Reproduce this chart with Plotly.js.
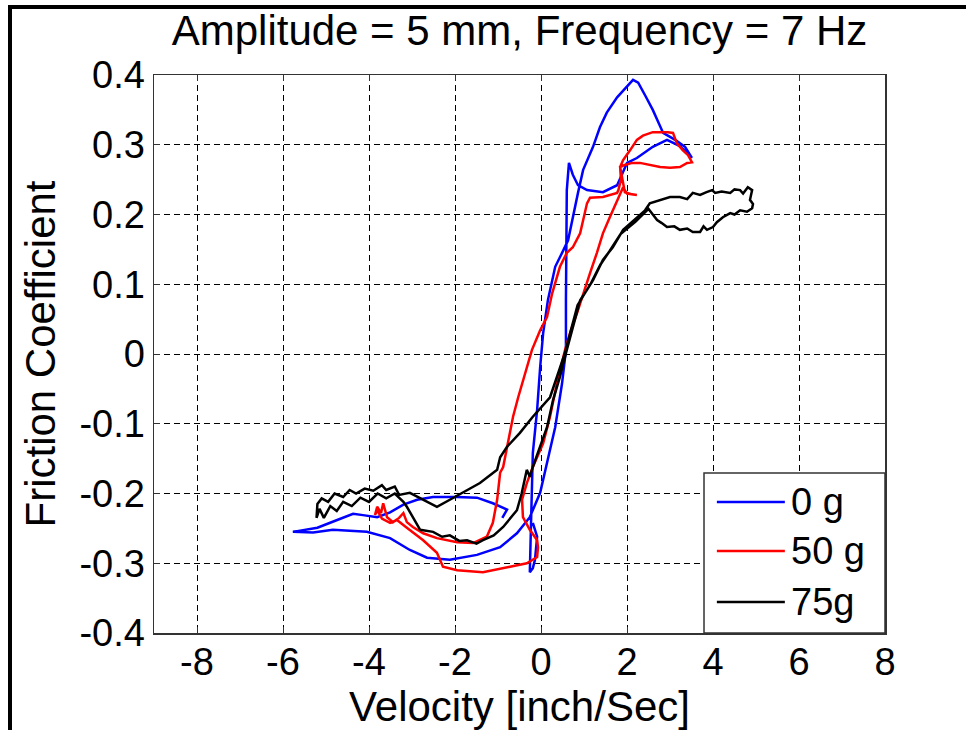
<!DOCTYPE html>
<html>
<head>
<meta charset="utf-8">
<script src="https://cdn.plot.ly/plotly-3.0.1.min.js"></script>
<style>
  html, body { margin: 0; padding: 0; background: #fff; }
  #chart { width: 966px; height: 730px; }
  #frame { position: absolute; left: 8px; top: 5px; width: 958px; height: 725px;
           border-top: 4px solid #000; border-left: 4px solid #000; box-sizing: border-box;
           pointer-events: none; }
</style>
</head>
<body>
<div id="chart"></div>
<div id="frame"></div>
<script>
// ---------------- data ----------------
const titleText = "Amplitude = 5 mm, Frequency = 7 Hz";
const xTitle = "Velocity [inch/Sec]";
const yTitle = "Friction Coefficient";

const seriesNames = ["0 g", "50 g", "75g"];
const seriesColors = ["#0000ff", "#ff0000", "#000000"];

const xTickVals = [-8, -6, -4, -2, 0, 2, 4, 6, 8];
const xTickText = ["-8", "-6", "-4", "-2", "0", "2", "4", "6", "8"];
const yTickVals = [-0.4, -0.3, -0.2, -0.1, 0, 0.1, 0.2, 0.3, 0.4];
const yTickText = ["-0.4", "-0.3", "-0.2", "-0.1", "0", "0.1", "0.2", "0.3", "0.4"];

// 0 g (blue)
const blueX = [-0.90, -0.79, -1.12, -1.49, -1.95, -2.51, -2.88, -3.20, -3.51, -3.81, -4.14, -4.37, -4.74, -5.20, -5.77,
  -5.30, -4.84, -4.05, -3.51, -3.05, -2.65, -2.12, -1.49, -0.95, -0.56, -0.26, -0.02, 0.16,
  0.33, 0.49, 0.58, 0.58, 0.60, 0.60, 0.65,
  0.74, 0.86, 1.07, 1.44, 1.77, 1.88, 2.00, 2.23, 2.60, 2.93, 3.23, 3.47, 3.51, 3.35, 3.12, 2.84,
  2.72, 2.60, 2.42, 2.26, 2.14, 2.00, 1.77, 1.53, 1.37, 1.21, 0.98, 0.86, 0.74, 0.63, 0.49, 0.33, 0.16,
  0.05, -0.02, -0.09, -0.19, -0.21, -0.23, -0.26, -0.19, -0.14, -0.09, -0.19];
const blueY = [-0.235, -0.223, -0.214, -0.206, -0.205, -0.205, -0.209, -0.216, -0.227, -0.234, -0.231, -0.229, -0.238, -0.249, -0.255,
  -0.256, -0.252, -0.255, -0.264, -0.281, -0.292, -0.295, -0.288, -0.277, -0.257, -0.234, -0.199, -0.152,
  -0.105, -0.042, 0.006, 0.077, 0.163, 0.235, 0.274,
  0.257, 0.242, 0.235, 0.232, 0.242, 0.257, 0.274, 0.281, 0.297, 0.307, 0.298, 0.284, 0.281, 0.297, 0.307, 0.317,
  0.333, 0.350, 0.371, 0.389, 0.393, 0.383, 0.368, 0.346, 0.325, 0.297, 0.264, 0.231, 0.196, 0.163, 0.145, 0.125, 0.077,
  0.030, -0.019, -0.080, -0.142, -0.180, -0.238, -0.313, -0.307, -0.295, -0.262, -0.242];

// 50 g (red)
const redX = [-3.81, -3.70, -3.51, -3.35, -3.12, -2.74, -2.42, -2.28, -1.95, -1.35, -0.72, -0.33, -0.09, -0.07, -0.09, -0.26, -0.42,
  -0.44, -0.33, -0.19, -0.02, 0.05, 0.21, 0.37, 0.56, 0.70, 0.84, 0.98, 1.14, 1.30, 1.44, 1.60, 1.77, 1.91,
  2.00, 2.23, 2.10, 1.95, 1.90, 1.84,
  1.95, 2.12, 2.30, 2.53, 2.77, 3.00, 3.23, 3.40, 3.51, 3.42, 3.30, 3.16, 3.07, 2.95, 2.60, 2.37, 2.23, 2.07, 1.91, 1.84, 1.86, 1.80,
  1.77, 1.44, 1.14, 1.07, 0.98, 0.91, 0.74, 0.60, 0.44, 0.26, 0.14, -0.02, -0.21, -0.37, -0.53, -0.65, -0.77, -0.88,
  -0.95, -1.02, -1.12, -1.26, -1.58, -1.95, -2.42, -2.74, -2.98, -3.12, -3.20, -3.30, -3.44, -3.58, -3.67, -3.72, -3.81, -3.86, -3.81];
const redY = [-0.224, -0.236, -0.242, -0.238, -0.249, -0.267, -0.285, -0.305, -0.310, -0.313, -0.305, -0.300, -0.291, -0.277, -0.267, -0.252, -0.234,
  -0.209, -0.185, -0.162, -0.138, -0.128, -0.090, -0.042, 0.006, 0.035, 0.059, 0.087, 0.116, 0.145, 0.173, 0.196, 0.221, 0.239,
  0.230, 0.228, 0.229, 0.232, 0.250, 0.268,
  0.271, 0.274, 0.274, 0.271, 0.268, 0.267, 0.268, 0.274, 0.275, 0.285, 0.292, 0.302, 0.317, 0.318, 0.318, 0.313, 0.307, 0.292, 0.278, 0.268, 0.250, 0.235,
  0.231, 0.225, 0.224, 0.216, 0.192, 0.173, 0.153, 0.145, 0.125, 0.087, 0.053, 0.034, 0.006, -0.027, -0.062, -0.090, -0.128, -0.162,
  -0.170, -0.209, -0.242, -0.262, -0.271, -0.270, -0.264, -0.257, -0.248, -0.241, -0.228, -0.235, -0.241, -0.234, -0.214, -0.228, -0.219, -0.231, -0.224];

// 75g (black)
const blackX = [-0.33, -0.26, -0.19, -0.02, 0.14, 0.28, 0.44, 0.60, 0.74, 0.91, 1.07, 1.21, 1.44, 1.67, 1.91, 2.23, 2.42, 2.53,
  2.77, 3.00, 3.23, 3.40, 3.53, 3.70, 3.85, 3.98, 4.05, 4.20, 4.40, 4.50, 4.63, 4.70, 4.81, 4.91, 4.86, 4.93, 4.91,
  4.79, 4.63, 4.50, 4.40, 4.23, 4.09, 4.00, 3.86, 3.78, 3.70, 3.53, 3.40, 3.23, 3.10, 2.93, 2.80, 2.70, 2.60, 2.50,
  2.20, 1.85, 1.60, 1.38, 1.15, 0.85, 0.70, 0.55, 0.21, -0.19, -0.49, -0.79, -0.95, -1.02, -1.42, -1.81, -2.12, -2.42,
  -2.74, -3.05, -3.30, -3.40, -3.60, -3.70, -3.90, -4.10, -4.30, -4.45, -4.60, -4.80, -4.95, -5.10, -5.20, -5.22,
  -5.15, -5.05, -4.90, -4.75, -4.60, -4.40, -4.20, -4.00, -3.80, -3.60, -3.40, -3.20, -3.12, -2.98, -2.81, -2.51,
  -2.30, -2.12, -1.90, -1.72, -1.50, -1.35, -1.10, -0.88, -0.70, -0.56, -0.45, -0.33];
const blackY = [-0.166, -0.176, -0.162, -0.133, -0.105, -0.066, -0.033, 0.006, 0.039, 0.077, 0.092, 0.106, 0.135, 0.153, 0.178, 0.196, 0.206, 0.216,
  0.221, 0.225, 0.225, 0.222, 0.231, 0.228, 0.232, 0.235, 0.231, 0.233, 0.231, 0.236, 0.235, 0.230, 0.239, 0.235, 0.221, 0.215, 0.209,
  0.204, 0.206, 0.200, 0.202, 0.196, 0.189, 0.182, 0.178, 0.183, 0.175, 0.175, 0.180, 0.178, 0.183, 0.182, 0.188, 0.192, 0.200, 0.208,
  0.190, 0.172, 0.148, 0.128, 0.100, 0.070, 0.035, 0.000, -0.062, -0.090, -0.113, -0.133, -0.148, -0.166, -0.185, -0.199, -0.209, -0.219,
  -0.209, -0.199, -0.202, -0.190, -0.195, -0.188, -0.196, -0.193, -0.200, -0.195, -0.205, -0.200, -0.212, -0.207, -0.215, -0.235,
  -0.222, -0.235, -0.218, -0.225, -0.212, -0.218, -0.206, -0.212, -0.200, -0.207, -0.200, -0.212, -0.219, -0.234, -0.252, -0.255,
  -0.262, -0.260, -0.268, -0.267, -0.272, -0.267, -0.260, -0.248, -0.235, -0.224, -0.200, -0.166];

// ---------------- chart ----------------
const font = "Liberation Sans, Arial, Helvetica, sans-serif";
const seriesX = [blueX, redX, blackX];
const seriesY = [blueY, redY, blackY];

const traces = seriesNames.map((name, i) => ({
  type: "scatter", mode: "lines", name: name,
  x: seriesX[i], y: seriesY[i],
  line: { color: seriesColors[i], width: 2.5 },
  showlegend: false
}));

// custom MATLAB-style legend built from the series arrays
const legX0 = 0.7524, legX1 = 1.0, legY0 = 0.0, legY1 = 0.2867;
const rowY = [0.2348, 0.147, 0.0556];
const shapes = [{
  type: "rect", xref: "paper", yref: "paper", x0: legX0, x1: legX1, y0: legY0, y1: legY1,
  fillcolor: "#ffffff", line: { color: "#333333", width: 1.5 }, layer: "above"
}];
const annotations = [];
seriesNames.forEach((name, i) => {
  shapes.push({ type: "line", xref: "paper", yref: "paper", x0: 0.770, x1: 0.863, y0: rowY[i], y1: rowY[i],
    line: { color: seriesColors[i], width: 2.5 }, layer: "above" });
  annotations.push({ xref: "paper", yref: "paper", x: 0.868, y: rowY[i], xanchor: "left", yanchor: "middle",
    text: name, showarrow: false, font: { family: font, size: 38, color: "#000" } });
});

const axisCommon = {
  showline: true, linecolor: "#333333", linewidth: 1.5, mirror: "ticks",
  ticks: "inside", ticklen: 6, tickcolor: "#333333", tickwidth: 1,
  showgrid: true, gridcolor: "#000000", gridwidth: 1, griddash: "6px,4px",
  zeroline: false, tickfont: { family: font, size: 38, color: "#000" },
  tickmode: "array"
};

const layout = {
  width: 966, height: 730,
  margin: { l: 154, r: 81, t: 75, b: 97, pad: 0 },
  paper_bgcolor: "#ffffff", plot_bgcolor: "#ffffff",
  title: { text: titleText, font: { family: font, size: 42, color: "#000" },
           x: 0.5, xref: "paper", xanchor: "center", y: 0.958, yref: "container", yanchor: "middle" },
  xaxis: Object.assign({}, axisCommon, {
    range: [-9, 8], tickvals: xTickVals, ticktext: xTickText, ticklabelstandoff: -5,
    title: { text: xTitle, font: { family: font, size: 42, color: "#000" }, standoff: 2 }
  }),
  yaxis: Object.assign({}, axisCommon, {
    range: [-0.4, 0.4], tickvals: yTickVals, ticktext: yTickText,
    title: { text: yTitle, font: { family: font, size: 42, color: "#000" }, standoff: 10 }
  }),
  shapes: shapes,
  annotations: annotations,
  showlegend: false
};

Plotly.newPlot("chart", traces, layout, { displayModeBar: false, staticPlot: true });
</script>
</body>
</html>
